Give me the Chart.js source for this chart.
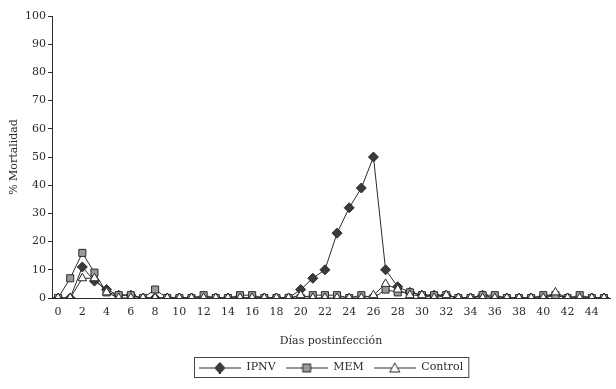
<!DOCTYPE html>
<html>
<head>
<meta charset="utf-8">
<script src="https://cdn.jsdelivr.net/npm/chart.js@4/dist/chart.umd.min.js"></script>
<style>
  html, body { margin: 0; padding: 0; background: #fff; }
  #wrap { width: 616px; height: 389px; }
</style>
</head>
<body>
<div id="wrap"><canvas id="chart" width="616" height="389"></canvas></div>
<script>
let days = [
  0, 1, 2, 3, 4, 5, 6, 7, 8, 9, 10, 11, 12, 13, 14, 15, 16, 17, 18, 19, 20, 21, 22,
  23, 24, 25, 26, 27, 28, 29, 30, 31, 32, 33, 34, 35, 36, 37, 38, 39, 40, 41, 42, 43,
  44, 45,
];

let ipnv = [
  0, 0, 11, 6, 3, 1, 1, 0, 0, 0, 0, 0, 0, 0, 0, 0, 0, 0, 0, 0, 3, 7, 10, 23, 32, 39,
  50, 10, 4, 2, 1, 1, 1, 0, 0, 1, 0, 0, 0, 0, 0, 1, 0, 0, 0, 0,
];

let mem = [
  0, 7, 16, 9, 2, 1, 1, 0, 3, 0, 0, 0, 1, 0, 0, 1, 1, 0, 0, 0, 0, 1, 1, 1, 0, 1, 0,
  3, 2, 2, 1, 1, 1, 0, 0, 1, 1, 0, 0, 0, 1, 1, 0, 1, 0, 0,
];

let control = [
  0, 0, 7, 7, 2, 0, 0, 0, 0, 0, 0, 0, 0, 0, 0, 0, 0, 0, 0, 0, 1, 0, 0, 0, 0, 0, 1,
  5, 3, 1, 1, 0, 1, 0, 0, 0, 0, 0, 0, 0, 0, 2, 0, 0, 0, 0,
];

let yTicks = [0, 10, 20, 30, 40, 50, 60, 70, 80, 90, 100];

let ink = "#2b2b2b";
let font = "'DejaVu Serif', 'Liberation Serif', serif";

// little "line + marker" pictures for the legend
function legendIcon(style, fill) {
  const c = document.createElement("canvas");
  c.width = 42;
  c.height = 12;
  const ctx = c.getContext("2d");
  ctx.strokeStyle = ink;
  ctx.lineWidth = 1;
  ctx.beginPath();
  ctx.moveTo(0, 6.5);
  ctx.lineTo(42, 6.5);
  ctx.stroke();
  ctx.fillStyle = fill;
  ctx.beginPath();
  if (style === "diamond") {
    ctx.moveTo(21, 1);
    ctx.lineTo(26, 6.5);
    ctx.lineTo(21, 12);
    ctx.lineTo(16, 6.5);
  } else if (style === "square") {
    ctx.rect(17, 2.5, 8, 8);
  } else {
    ctx.moveTo(21, 1.5);
    ctx.lineTo(26, 10.5);
    ctx.lineTo(16, 10.5);
  }
  ctx.closePath();
  ctx.fill();
  ctx.stroke();
  return c;
}

let icons = [
  legendIcon("diamond", "#3a3a3a"),
  legendIcon("square", "#9a9a9a"),
  legendIcon("triangle", "#ffffff"),
];

let legendBorder = {
  id: "legendBorder",
  afterDraw(chart) {
    const boxes = chart.legend.legendHitBoxes;
    if (!boxes || !boxes.length) return;
    const left = boxes[0].left - 5;
    const right = boxes[boxes.length - 1].left + boxes[boxes.length - 1].width + 5;
    const top = boxes[0].top - 5;
    const bottom = boxes[0].top + boxes[0].height + 4;
    const ctx = chart.ctx;
    ctx.save();
    ctx.strokeStyle = "#444";
    ctx.lineWidth = 1;
    ctx.strokeRect(Math.round(left) + 0.5, Math.round(top) + 0.5, right - left, bottom - top);
    ctx.restore();
  },
};

function series(label, data, style, fill, radius) {
  return {
    label: label,
    data: data,
    borderColor: ink,
    borderWidth: 1,
    pointStyle: style,
    pointRadius: radius,
    pointBackgroundColor: fill,
    pointBorderColor: ink,
    pointBorderWidth: 1,
    tension: 0,
  };
}

new Chart(document.getElementById("chart"), {
  type: "line",
  data: {
    labels: days,
    datasets: [
      series("Control", control, "triangle", "#ffffff", 5),
      series("MEM", mem, "rect", "#9a9a9a", 5),
      series("IPNV", ipnv, "rectRot", "#3a3a3a", 5),
    ],
  },
  options: {
    responsive: false,
    animation: false,
    layout: { padding: { top: 16, right: 0, left: 0, bottom: 6 } },
    plugins: {
      tooltip: { enabled: false },
      legend: {
        position: "bottom",
        fullSize: false,
        reverse: true,
        labels: {
          usePointStyle: true,
          pointStyleWidth: 42,
          boxHeight: 12,
          padding: 10,
          color: ink,
          font: { family: font, size: 11 },
          generateLabels(chart) {
            return chart.data.datasets.map((ds, i) => ({
              text: ds.label,
              pointStyle: icons[2 - i],
              datasetIndex: i,
              fillStyle: "#fff",
              strokeStyle: ink,
              lineWidth: 0,
              fontColor: ink,
            }));
          },
        },
      },
    },
    scales: {
      x: {
        type: "category",
        offset: true,
        afterFit(scale) {
          scale.height = 54;
        },
        grid: { display: false, drawTicks: false },
        border: { display: true, color: ink, width: 1 },
        ticks: {
          autoSkip: false,
          maxRotation: 0,
          padding: 8,
          color: ink,
          font: { family: font, size: 11 },
          callback(value, index) {
            return days[index] % 2 === 0 ? String(days[index]) : "";
          },
        },
        title: {
          display: true,
          text: "Días postinfección",
          color: ink,
          font: { family: font, size: 11 },
          padding: { top: 7 },
        },
      },
      y: {
        min: 0,
        max: 100,
        afterFit(scale) {
          scale.width = 52;
        },
        afterBuildTicks(scale) {
          scale.ticks = yTicks.map((v) => ({ value: v }));
        },
        grid: {
          drawOnChartArea: false,
          drawTicks: true,
          tickLength: 4,
          color: ink,
        },
        border: { display: true, color: ink, width: 1 },
        ticks: {
          padding: 2,
          color: ink,
          font: { family: font, size: 11 },
        },
        title: {
          display: true,
          text: "% Mortalidad",
          color: ink,
          font: { family: font, size: 11 },
          padding: { top: 8, bottom: 0 },
        },
      },
    },
  },
  plugins: [legendBorder],
});
</script>
</body>
</html>
